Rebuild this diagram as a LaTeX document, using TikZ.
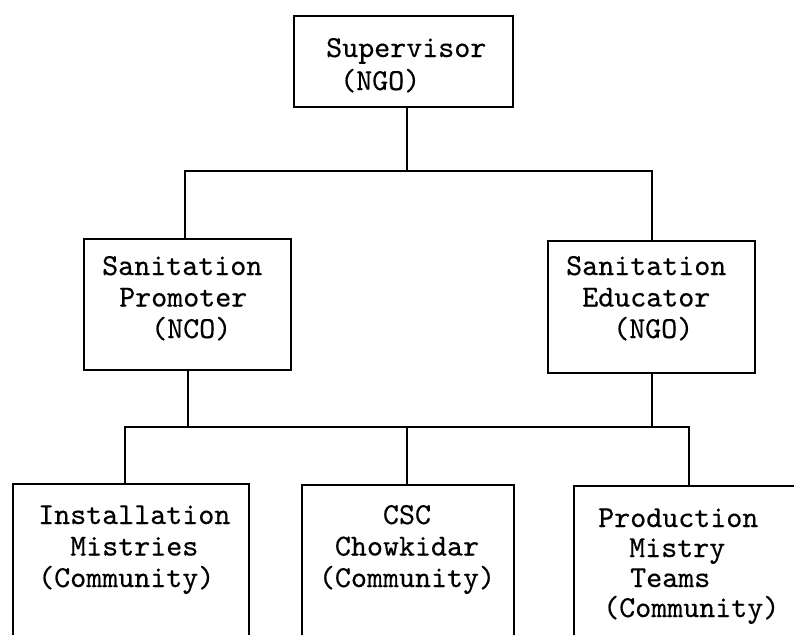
\documentclass[tikz,border=0pt]{standalone}
\usepackage{fontspec}
\newfontfamily\typew{lmmono10-regular.otf}[FakeBold=0.35]
\begin{document}
\begin{tikzpicture}[x=1pt,y=-1pt,
  orgbox/.style={draw, line width=2.2pt, inner sep=0pt, anchor=north west},
  conn/.style={line width=2.2pt},
  lbl/.style={font=\fontsize{30.5}{31.5}\selectfont\typew, inner sep=0pt, anchor=base west, align=left},
  lblc/.style={lbl, anchor=base, align=center}]
\useasboundingbox (0,0) rectangle (794,634);
\clip (0,0) rectangle (794,634);
\fill[white] (0,0) rectangle (794,634);

% boxes
\node[orgbox, minimum width=219pt, minimum height=91pt]  (sup)  at (293,15)  {};
\node[orgbox, minimum width=207pt, minimum height=131pt] (prom) at (83,238)  {};
\node[orgbox, minimum width=207pt, minimum height=132pt] (edu)  at (547,240) {};
\node[orgbox, minimum width=236pt, minimum height=220pt] (inst) at (12,483)  {};
\node[orgbox, minimum width=212pt, minimum height=220pt] (csc)  at (301,484) {};
\node[orgbox, minimum width=230pt, minimum height=220pt] (prod) at (573,485) {};

% labels (positioned by the baseline of their last line)
\node[lbl] (supT)  at (326,90)  {Supervisor\\[1.5pt]\hspace*{14pt}(NGO)};
\node[lbl] (promT) at (102,338) {Sanitation\\\hspace*{17pt}Promoter\\\hspace*{49pt}(NCO)};
\node[lbl] (eduT)  at (566,338) {Sanitation\\\hspace*{16pt}Educator\\\hspace*{47pt}(NGO)};
\node[lbl] (instT) at (38,587)  {Installation\\\hspace*{32pt}Mistries\\(Community)};
\node[lblc] (cscT) at (407,587) {CSC\\Chowkidar\\(Community)};
\node[lbl, font=\fontsize{30.5}{30}\selectfont\typew] (prodT) at (598,617)
  {Production\\\hspace*{31pt}Mistry\\\hspace*{32pt}Teams\\\hspace*{5pt}(Community)};

% junction levels
\coordinate (topbus) at (0,171);
\coordinate (botbus) at (0,427);

% connectors
\draw[conn] ([xshift=3.5pt]sup.south) -- ([xshift=3.5pt]sup.south |- topbus);
\draw[conn] ([xshift=-2.5pt]prom.north) -- ([xshift=-2.5pt]prom.north |- topbus)
            -- (edu.north |- topbus) -- (edu.north);
\draw[conn] (prom.south) -- (prom.south |- botbus);
\draw[conn] (edu.south) -- (edu.south |- botbus);
\draw[conn] ([xshift=-6pt]inst.north) -- ([xshift=-6pt]inst.north |- botbus)
            -- (prod.north |- botbus) -- (prod.north);
\draw[conn] ([xshift=-1pt]csc.north) -- ([xshift=-1pt]csc.north |- botbus);
\end{tikzpicture}
\end{document}
